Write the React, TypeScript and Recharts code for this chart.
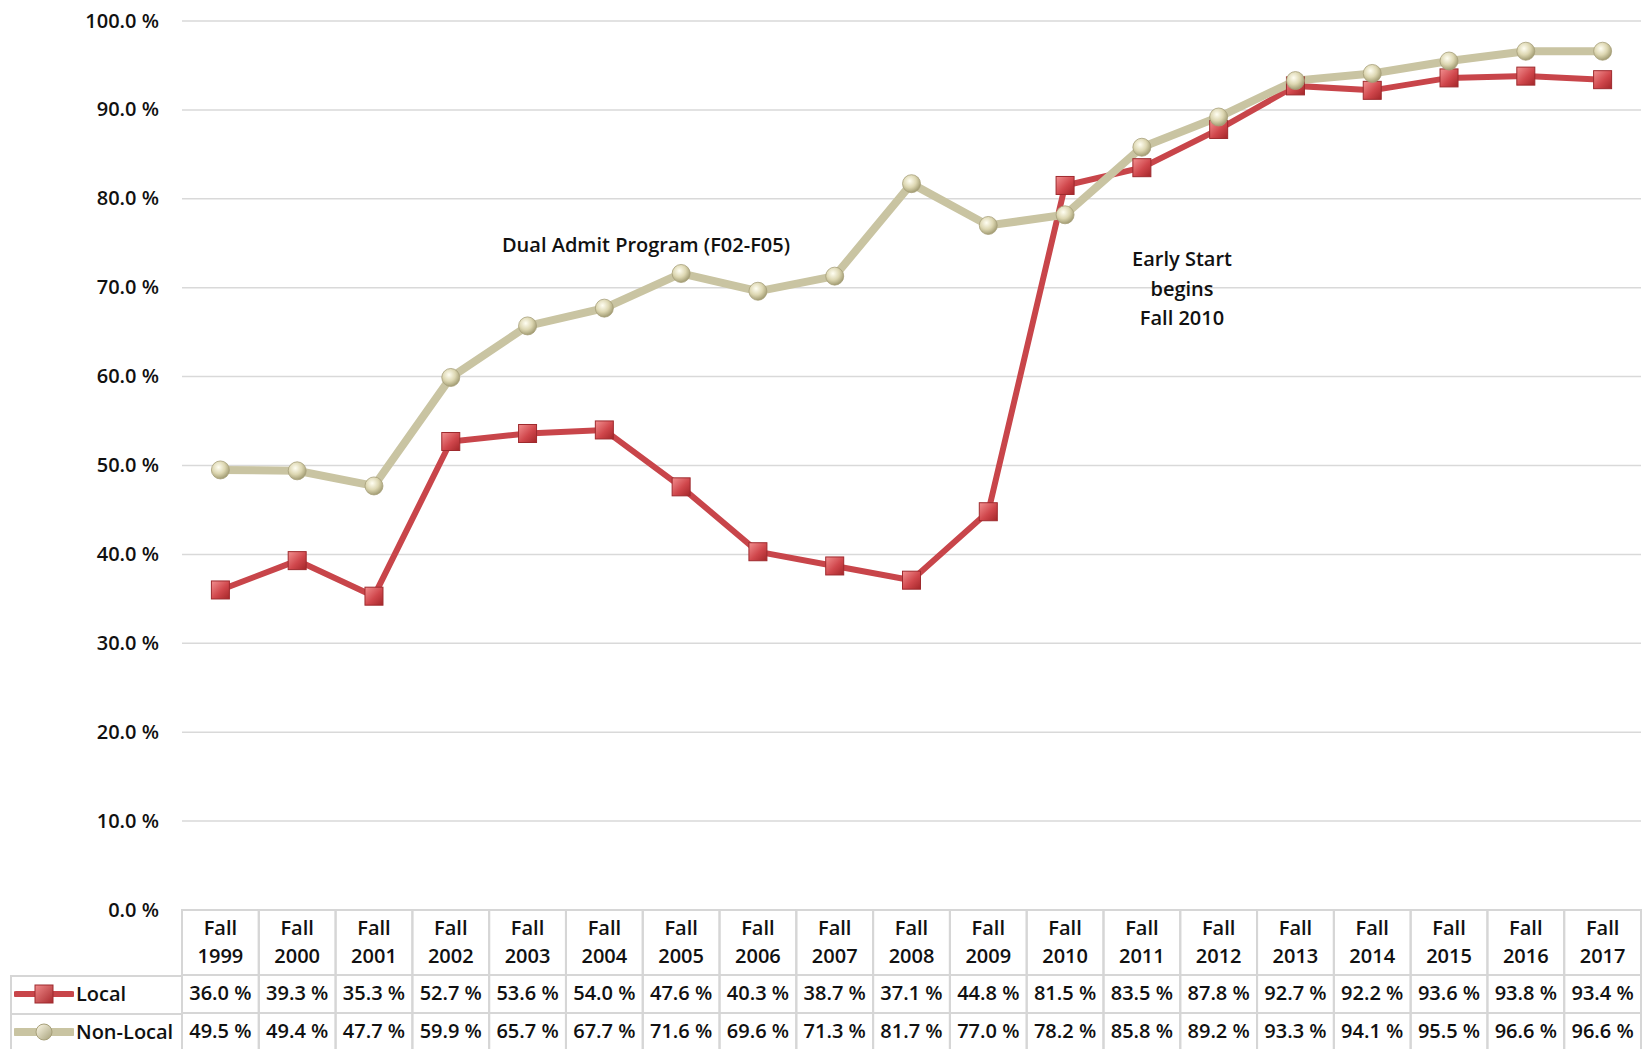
import React from 'react';
import { LineChart, Line, XAxis, YAxis, CartesianGrid } from 'recharts';

// Fall cohort years (x categories)
const YEARS = [
  '1999', '2000', '2001', '2002', '2003', '2004', '2005', '2006', '2007', '2008',
  '2009', '2010', '2011', '2012', '2013', '2014', '2015', '2016', '2017',
];
const LOCAL = [
  36.0, 39.3, 35.3, 52.7, 53.6, 54.0, 47.6, 40.3, 38.7, 37.1,
  44.8, 81.5, 83.5, 87.8, 92.7, 92.2, 93.6, 93.8, 93.4,
];
const NON_LOCAL = [
  49.5, 49.4, 47.7, 59.9, 65.7, 67.7, 71.6, 69.6, 71.3, 81.7,
  77.0, 78.2, 85.8, 89.2, 93.3, 94.1, 95.5, 96.6, 96.6,
];
const Y_TICKS = [0, 10, 20, 30, 40, 50, 60, 70, 80, 90, 100];

const FONT = '"Open Sans", "Liberation Sans", sans-serif';
const BORDER = '#d6d6d6';
const LOCAL_COLOR = '#c8454a';
const NONLOCAL_COLOR = '#c9c4a2';

const W = 1644;
const H = 1049;
const COL_W = (1641 - 182) / YEARS.length;

const data = YEARS.map((y, i) => ({ year: y, local: LOCAL[i], nonLocal: NON_LOCAL[i] }));

const fmt = (v: number) => `${v.toFixed(1)} %`;

function YTick(props: any) {
  const { y, payload } = props;
  return (
    <text x={159} y={y - 1} textAnchor="end" dominantBaseline="central"
      fontFamily={FONT} fontSize={20} fontWeight={600} fill="#111">
      {fmt(payload.value)}
    </text>
  );
}

// each x tick draws one column of the data table under the plot
function ColumnTick(props: any) {
  const { x, y, index } = props;
  const left = x - COL_W / 2;
  const t = { fontFamily: FONT, fontSize: 20, fontWeight: 600, fill: '#111', textAnchor: 'middle' as const, dominantBaseline: 'central' as const };
  return (
    <g>
      <rect x={left} y={y} width={COL_W} height={141} fill="none" stroke={BORDER} strokeWidth={2} />
      <line x1={left} x2={left + COL_W} y1={y + 65} y2={y + 65} stroke={BORDER} strokeWidth={2} />
      <line x1={left} x2={left + COL_W} y1={y + 103} y2={y + 103} stroke={BORDER} strokeWidth={2} />
      <text x={x} y={y + 17} {...t}>Fall</text>
      <text x={x} y={y + 45} {...t}>{YEARS[index]}</text>
      <text x={x} y={y + 82} {...t}>{fmt(LOCAL[index])}</text>
      <text x={x} y={y + 120} {...t}>{fmt(NON_LOCAL[index])}</text>
    </g>
  );
}

function SquareDot(props: any) {
  const { cx, cy } = props;
  if (cx == null || cy == null) return null;
  return <rect x={cx - 9} y={cy - 9} width={18} height={18} fill="url(#sqGrad)" stroke="#9e2a2e" strokeWidth={1} />;
}

function BallDot(props: any) {
  const { cx, cy } = props;
  if (cx == null || cy == null) return null;
  return <circle cx={cx} cy={cy} r={9} fill="url(#ballGrad)" stroke="#a7a07a" strokeWidth={0.8} />;
}

function LegendIcon({ kind }: { kind: 'sq' | 'ball' }) {
  return (
    <svg width={60} height={24} style={{ display: 'block' }}>
      <defs>
        <linearGradient id={`lg-${kind}`} x1="0" y1="0" x2="1" y2="1">
          <stop offset="0%" stopColor={kind === 'sq' ? '#f08a8a' : '#fffbea'} />
          <stop offset="100%" stopColor={kind === 'sq' ? '#a92a2e' : '#a59f78'} />
        </linearGradient>
      </defs>
      <line x1={2} x2={58} y1={12} y2={12} stroke={kind === 'sq' ? LOCAL_COLOR : NONLOCAL_COLOR}
        strokeWidth={kind === 'sq' ? 6 : 8} strokeLinecap="round" />
      {kind === 'sq'
        ? <rect x={21} y={3} width={18} height={18} fill={`url(#lg-${kind})`} stroke="#9e2a2e" />
        : <circle cx={30} cy={12} r={8} fill={`url(#lg-${kind})`} stroke="#a7a07a" />}
    </svg>
  );
}

export default function App() {
  const txt: React.CSSProperties = { fontFamily: FONT, fontSize: 20, fontWeight: 600, color: '#111', position: 'absolute', whiteSpace: 'nowrap' };
  return (
    <div style={{ position: 'absolute', left: 0, top: 0, width: W, height: H, background: '#fff', overflow: 'hidden' }}>
      <LineChart width={W} height={H} data={data} margin={{ top: 21, right: 3, bottom: 0, left: 0 }}>
        <defs>
          <linearGradient id="sqGrad" x1="0" y1="0" x2="1" y2="1">
            <stop offset="0%" stopColor="#f29090" />
            <stop offset="55%" stopColor="#d0474c" />
            <stop offset="100%" stopColor="#a32629" />
          </linearGradient>
          <radialGradient id="ballGrad" cx="40%" cy="35%" r="65%">
            <stop offset="0%" stopColor="#fffef2" />
            <stop offset="55%" stopColor="#ddd7b2" />
            <stop offset="100%" stopColor="#a39d74" />
          </radialGradient>
        </defs>
        <CartesianGrid vertical={false} stroke="#d9d9d9" strokeWidth={1.5} />
        <XAxis dataKey="year" height={139} interval={0} axisLine={false} tickLine={false}
          tickSize={0} tickMargin={0} padding={{ left: COL_W / 2, right: COL_W / 2 }}
          tick={<ColumnTick />} />
        <YAxis width={182} domain={[0, 100]} ticks={Y_TICKS} axisLine={false} tickLine={false}
          tick={<YTick />} />
        <Line dataKey="local" type="linear" stroke={LOCAL_COLOR} strokeWidth={6}
          dot={<SquareDot />} activeDot={false} isAnimationActive={false} />
        <Line dataKey="nonLocal" type="linear" stroke={NONLOCAL_COLOR} strokeWidth={8}
          dot={<BallDot />} activeDot={false} isAnimationActive={false} />
      </LineChart>

      {/* annotations */}
      <div style={{ ...txt, left: 646, top: 244, transform: 'translate(-50%, -50%)' }}>
        Dual Admit Program (F02-F05)
      </div>
      <div style={{ ...txt, left: 1182, top: 288, transform: 'translate(-50%, -50%)', textAlign: 'center', lineHeight: '29.5px' }}>
        Early Start<br />begins<br />Fall 2010
      </div>

      {/* legend cells of the data table */}
      <div style={{ position: 'absolute', left: 10, top: 975, width: 172, height: 76, borderLeft: `2px solid ${BORDER}`, borderTop: `2px solid ${BORDER}`, boxSizing: 'border-box' }}>
        <div style={{ position: 'absolute', left: 2, top: 5 }}><LegendIcon kind="sq" /></div>
        <div style={{ ...txt, left: 64, top: 16, transform: 'translateY(-50%)' }}>Local</div>
        <div style={{ position: 'absolute', left: -2, top: 36, width: 172, borderTop: `2px solid ${BORDER}` }} />
        <div style={{ position: 'absolute', left: 2, top: 43 }}><LegendIcon kind="ball" /></div>
        <div style={{ ...txt, left: 64, top: 54, transform: 'translateY(-50%)' }}>Non-Local</div>
      </div>
    </div>
  );
}
